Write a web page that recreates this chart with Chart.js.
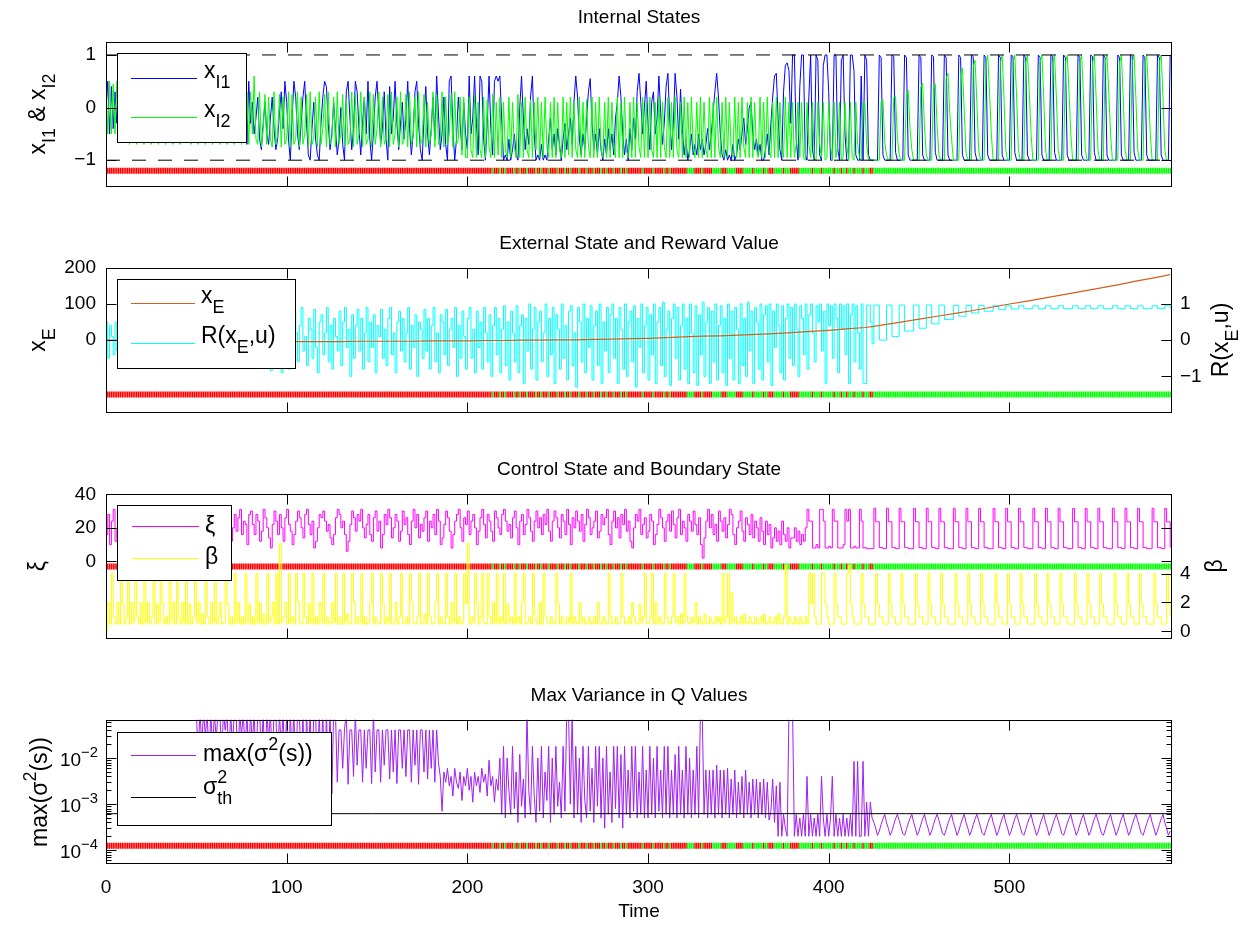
<!DOCTYPE html>
<html lang="en">
<head>
<meta charset="UTF-8" />
<title>Internal, External, Control States and Max Variance</title>
<script src="https://cdn.jsdelivr.net/npm/chart.js"></script>
<style>
  body { margin: 0; background: #fff; }
  #page { position: relative; width: 1252px; height: 927px; background: #fff; overflow: hidden; }
  .panel { position: absolute; left: 0; width: 1252px; }
</style>
</head>
<body>
<div id="page">
  <div class="panel" style="top:0px;height:191px"><canvas id="internal"></canvas></div>
  <div class="panel" style="top:226px;height:191px"><canvas id="external"></canvas></div>
  <div class="panel" style="top:452px;height:191px"><canvas id="control"></canvas></div>
  <div class="panel" style="top:678px;height:249px"><canvas id="variance"></canvas></div>
</div>
<script>
// ---------- data: one value per time step (t = 0 .. 589) unless noted ----------
const timeTicks = [0, 100, 200, 300, 400, 500];

const xI1 = [
0,0.5,-0.5,0.4,-0.4,0.3,-0.3,0.5,-0.5,0.2,-0.4,0.3,-0.2,0.4,-0.5,0.1,-0.3,0.4,-0.4,0.2,
-0.5,0.3,-0.3,0.4,-0.5,0.2,-0.2,0.4,-0.4,0.3,-0.5,0.1,-0.3,0.4,-0.4,0.2,-0.5,0.3,-0.2,0.4,
-0.5,0.2,-0.3,0.4,-0.5,0.3,-0.4,0.2,-0.5,0.4,-0.3,0.3,-0.5,0.2,-0.4,0.4,-0.5,0.3,-0.3,0.2,
-0.5,0.4,-0.4,0.3,-0.5,0.2,-0.3,0.4,-0.5,0.3,-0.4,0.2,-0.6,0.4,-0.5,0.3,-0.6,0.2,-0.7,0.5,
-0.3,0.1,-0.5,-0.2,0.2,-0.6,-0.8,-0.3,0.1,-0.5,-0.7,-0.2,0.2,-0.4,-0.8,-0.6,-0.1,0.3,-0.4,0.5,
0.1,-0.6,-1,-0.2,0.5,0.2,-0.5,-0.8,-0.3,0.2,0.5,-0.3,-0.9,-1,-0.4,0.1,-0.6,-0.9,-1,-0.3,
0.2,0.5,0.4,-0.3,-0.8,-0.5,0.1,-0.4,-0.9,-0.6,0,-0.7,-1,0.3,0.5,-0.2,-0.8,-0.4,0.5,0.3,
-0.4,-0.9,-0.3,0.2,-0.5,0.5,-0.6,-1,-0.5,0.2,0.5,-0.1,-0.7,-0.4,0.3,-0.6,-1,0.4,-0.5,-0.2,
0.5,-0.3,-0.8,-0.3,0.1,-0.6,-0.2,0.5,-0.4,-0.9,-0.5,0.3,0.5,-0.3,-0.8,-1,-0.2,0.4,-0.5,-0.9,
-0.4,0.2,-0.6,0.6,-0.1,-0.8,-0.5,0.2,-0.7,-1,0.5,0.6,-0.4,-1,-0.6,0.2,-0.3,-0.8,0.1,-0.5,
-0.8,0.6,-0.5,-0.2,0.6,-0.3,-0.9,0.6,0.5,-0.6,-1,-0.3,0.6,-0.4,-0.9,0.5,0.6,0.5,0.6,-0.2,
-1,-0.9,-1,-0.6,-1,-0.8,-0.5,-0.9,-1,0,0.6,-0.2,-0.8,-0.4,-0.7,0.2,0.6,-0.5,-1,-0.9,
-1,-0.7,-1,-0.9,-1,-0.6,-0.2,-0.8,-0.5,-0.9,-0.4,-0.7,-1,-0.6,-0.3,-0.8,-0.5,-0.2,-0.7,0.1,
0.6,0.2,-0.6,-0.9,-0.5,-0.8,-0.2,0.3,0.55,-0.3,-0.8,-0.5,-0.9,-0.4,-0.8,-1,-0.6,-0.9,-0.4,-0.8,
-0.5,-0.9,-0.2,0.1,0.6,0.2,-0.5,-0.9,-0.6,-1,-0.4,-0.8,-0.2,-0.6,0.3,0.65,0.1,-0.5,0,0.5,
-0.3,-0.8,0.1,0.3,-0.5,-0.2,0.6,-0.1,-0.7,-0.3,0.4,0.65,-0.2,-0.8,-0.3,0.65,0.2,-0.6,0.35,-0.4,
-0.9,-0.6,-1,-0.8,-0.5,-0.9,-0.7,-0.9,-0.5,-0.8,-0.6,-0.9,-0.7,-0.4,-0.8,-0.5,-0.1,0.3,0.65,0.2,
-0.5,-0.9,-1,-0.8,-1,-0.9,-1,-0.7,-1,-0.9,-0.6,-0.8,-0.5,-0.2,-0.7,-0.4,0,0.1,-0.5,-0.8,
-0.6,-0.9,-0.7,-1,-1,-0.8,-0.5,-0.9,-0.3,0.2,0.6,0.65,-0.2,-0.8,-1,0.3,0.8,0.85,0.7,-0.3,
1,1,-0.6,-1,0.4,1,1,-0.9,-1,0.2,1,-0.8,-1,1,0.9,-0.9,-1,0.8,1,1,
0.3,-1,-1,1,1,-0.8,-1,0.9,1,-0.5,-1,-1,1,1,0.7,-0.9,-1,-1,0.6,-1,
1,0.9,-0.9,-1,-1,
-1,-1,-1,1,0.95,-0.9,-1,
-1,-1,-1,1,0.97,-0.85,-1,
-1,-1,-1,1,0.95,-0.9,-1,-1,
-1,-1,-1,1,0.95,-0.9,-1,
-1,-1,-1,1,0.97,-0.85,-1,
-1,-1,-1,1,0.95,-0.9,-1,-1,
-1,-1,-1,1,0.95,-0.9,-1,
-1,-1,-1,1,0.97,-0.85,-1,
-1,-1,-1,1,0.95,-0.9,-1,-1,
-1,-1,-1,1,0.95,-0.9,-1,
-1,-1,-1,1,0.97,-0.85,-1,
-1,-1,-1,1,0.95,-0.9,-1,-1,
-1,-1,-1,1,0.95,-0.9,-1,
-1,-1,-1,1,0.97,-0.85,-1,
-1,-1,-1,1,0.95,-0.9,-1,-1,
-1,-1,-1,1,0.95,-0.9,-1,
-1,-1,-1,1,0.97,-0.85,-1,
-1,-1,-1,1,0.95,-0.9,-1,-1,
-1,-1,-1,1,0.95,-0.9,-1,
-1,-1,-1,1,0.97,-0.85,-1,
-1,-1,-1,1,0.95,-0.9,-1,-1,
-1,-1,-1,1,0.95,-0.9,-1,
-1,-1,-1,1
];

const xI2 = [
0.5,-0.5,0.5,-0.5,0.45,-0.5,0.5,-0.45,0.5,-0.5,0.3,-0.6,0.2,-0.7,0.3,-0.5,0.2,-0.7,0.3,-0.6,
0.2,-0.7,0.25,-0.5,0.3,-0.7,0.1,-0.6,0.3,-0.7,0.2,-0.5,0.3,-0.7,0.2,-0.6,0.25,-0.7,0.1,-0.6,
0.3,-0.7,0.2,-0.5,0.3,-0.65,0.2,-0.7,0.1,-0.6,0.3,-0.7,0.2,-0.5,0.25,-0.7,0.3,-0.6,0.2,-0.7,
0.3,-0.5,0.2,-0.7,0.25,-0.6,0.3,-0.7,0.1,-0.65,0.3,-0.7,0.2,-0.5,0.3,-0.7,0.45,-0.6,0.3,-0.7,
0.3,-0.5,0.6,-0.6,-0.7,0.3,-0.75,-0.4,0.25,-0.7,0.2,-0.6,-0.75,0.3,-0.7,-0.5,0.25,-0.75,0.2,-0.7,
-0.6,0.3,-0.75,0.25,-0.7,-0.6,0.3,-0.75,0.2,-0.7,-0.5,0.25,-0.75,0.3,-0.7,-0.6,0.2,-0.75,0.3,-0.7,
-0.4,0.25,-0.75,0.3,-0.7,-0.6,0.2,-0.75,0.3,-0.7,-0.5,0.25,-0.75,0.15,-0.7,-0.6,0.3,-0.75,0.25,-0.7,
-0.5,0.3,-0.75,0.2,-0.7,-0.6,0.3,-0.75,0.25,-0.7,-0.4,0.3,-0.75,0.2,-0.7,-0.6,0.25,-0.75,0.3,-0.7,
-0.5,0.2,-0.75,0.3,-0.7,-0.6,0.25,-0.75,0.3,-0.7,-0.55,0.2,-0.75,0.3,-0.7,-0.6,0.25,-0.75,0.1,-0.7,
-0.5,0.3,-0.75,0.25,-0.7,-0.6,0.3,-0.75,0.2,-0.7,-0.5,0.25,-0.75,0.3,-0.7,-0.6,0.2,-0.9,0.2,-0.95,
-0.95,0.2,-0.8,-0.95,0.25,-0.95,0.1,-0.8,-0.95,0.2,-0.95,0.15,-0.75,-0.95,0.25,-0.95,0.1,-0.9,0.2,-0.95,
0.1,-0.8,-0.95,0.2,-0.95,0.1,-0.75,-0.95,0.25,-0.95,0.1,-0.95,0.2,-0.8,-0.95,0.15,-0.95,0.1,-0.8,0.2,
-0.95,0.1,-0.95,0.2,-0.75,-0.95,0.1,-0.95,0.2,-0.95,0.1,-0.8,-0.95,0.2,-0.95,0.1,-0.9,0.2,-0.95,0.1,
-0.8,-0.95,0.2,-0.95,0.1,-0.95,0.15,-0.75,-0.95,0.2,-0.95,0.1,-0.95,0.2,-0.8,-0.95,0.1,-0.95,0.2,-0.95,
0.1,-0.75,-0.95,0.2,-0.95,0.1,-0.95,0.2,-0.8,-0.95,0.1,-0.95,0.2,-0.95,0.1,-0.75,-0.95,0.2,-0.95,0.1,
-0.95,0.2,-0.8,-0.95,0.1,-0.95,0.2,-0.95,0.1,-0.75,-0.95,0.2,-0.95,0.1,-0.95,0.2,-0.8,-0.95,0.1,-0.95,
0.2,-0.95,0.1,-0.95,0.2,-0.75,-0.95,0.1,-0.95,0.2,-0.95,0.1,-0.8,-0.95,0.2,-0.95,0.1,-0.95,0.2,-0.75,
-0.95,0.1,-0.95,0.2,-0.95,0.1,-0.8,-0.95,0.2,-0.95,0.1,-0.95,0.2,-0.75,-0.95,0.1,-0.95,0.2,-0.95,0.1,
-0.8,-0.95,0.2,-0.95,0.1,-0.95,0.2,-0.8,-0.95,0.1,-0.95,0.2,-0.95,0.1,-0.75,-0.95,0.2,-0.95,0.1,-0.95,
0.1,-0.95,-0.7,0.1,-0.95,0.1,-0.95,-1,0.1,-0.7,-0.95,0.1,-0.95,-1,0.1,-0.7,-0.95,0.1,-1,-0.95,
0.1,-0.7,-1,0.1,-0.95,-0.7,0.1,-1,-0.95,0.1,-0.7,-1,0.1,-0.95,-1,0.1,-0.7,-0.95,-1,0.1,
0.1,-0.7,-1,-1,-1,
-1,-1,-1,-1,0.12,0.15,-0.65,
-0.9,-1,-1,-1,0.19,0.22,-0.58,
-0.9,-1,-1,-1,0.28,0.33,-0.4,-0.8,
-1,-1,-1,-1,0.39,0.46,-0.34,
-0.9,-1,-1,-1,0.38,0.45,-0.35,
-0.9,-1,-1,-1,0.55,0.65,-0.1,-0.6,
-1,-1,-1,-1,0.64,0.75,-0.05,
-0.85,-1,-1,-1,0.77,0.9,0.1,
-0.8,-1,-1,-1,0.85,1,0.3,-0.5,
-1,-1,-1,-1,0.85,1,0.2,
-0.8,-1,-1,-1,0.85,1,0.2,
-0.8,-1,-1,-1,0.85,1,0.3,-0.5,
-1,-1,-1,-1,0.85,1,0.2,
-0.8,-1,-1,-1,0.85,1,0.2,
-0.8,-1,-1,-1,0.85,1,0.3,-0.5,
-1,-1,-1,-1,0.85,1,0.2,
-0.8,-1,-1,-1,0.85,1,0.2,
-0.8,-1,-1,-1,0.85,1,0.3,-0.5,
-1,-1,-1,-1,0.85,1,0.2,
-0.8,-1,-1,-1,0.85,1,0.2,
-0.8,-1,-1,-1,0.85,1,0.3,-0.5,
-1,-1,-1,-1,0.85,1,0.2,
-0.8,-1,-1,-1
];

// external state, read every 10 steps (smooth curve)
const xETime = [0,10,20,30,40,50,60,70,80,90,100,110,120,130,140,150,160,170,180,190,200,210,220,230,240,250,260,270,280,290,300,310,320,330,340,350,360,370,380,390,400,410,420,425,430,440,450,460,470,480,490,500,510,520,530,540,550,560,570,580,589];
const xE = [0,-1,-1,-2,-2,-3,-3,-3,-3,-4,-4,-4,-4,-4,-3,-3,-3,-3,-2,-2,-2,-1,-1,0,0,1,1,2,3,4,5,7,9,11,12,14,16,18,21,24,27,31,35,38,42,50,58,66,74,82,91,100,108,117,126,135,144,153,163,172,181];

const reward = [
0.5,-0.5,0.4,0.1,-0.4,0.5,-0.3,0.2,0.6,-0.2,0.3,-0.5,0.4,0,-0.4,0.5,0.2,-0.3,0.6,-0.1,
0.4,-0.5,0.2,0.6,-0.3,0.1,0.5,-0.6,0.3,-0.2,0.6,0,-0.5,0.4,-0.1,0.5,-0.4,0.2,0.7,-0.3,
0.1,0.6,-0.5,0.3,-0.2,0.5,-0.6,0.4,0,0.7,-0.4,0.2,-0.6,0.5,0.1,-0.3,0.6,-0.5,0.3,0,
-0.6,0.5,0.2,-0.4,0.7,-0.2,0.4,-0.6,0.1,0.6,-0.3,0.5,-0.5,0.2,0.7,-0.4,0,0.5,-0.6,0.3,
0.7,-0.2,0.4,-0.6,0.6,0.1,-0.5,0.5,-0.3,0.7,0.2,-0.85,0.4,-0.6,0.6,-0.2,0.5,-0.9,0.3,0.7,
-0.4,-0.8,0.5,-0.5,0.8,0.2,-0.6,0.4,0.9,-0.3,0.1,-0.7,0.6,0.3,-0.5,0.85,-0.2,-0.9,0.5,0.7,
-0.4,0.2,0.9,-0.6,0.4,-0.8,0.6,0.1,-0.3,0.8,-0.7,0.5,0.9,-0.2,0.3,-1,0.7,-0.5,0.4,0.85,
-0.3,0.6,-0.8,0.2,0.9,-0.6,0.5,-0.2,0.7,-0.9,0.4,0.1,0.85,-0.5,0.3,-0.7,0.6,0.9,-0.4,0.2,
-0.9,0.5,0.8,-0.3,0.6,-0.6,0.2,0.9,-0.8,0.4,-0.2,0.7,-1,0.5,0.3,-0.5,0.85,-0.3,0.6,-0.8,
0.4,0.9,-0.6,0.2,-0.9,0.7,0.5,-0.4,0.85,-0.7,0.3,0.6,-0.2,0.9,-1,0.4,-0.5,0.8,0.1,-0.8,
0.6,0.9,-0.5,0.3,-0.9,0.8,-0.2,0.5,-0.8,0.9,0.2,-0.6,0.7,-1,0.4,0.9,-0.4,0.6,-0.9,0.3,
0.95,-0.7,0.5,-1.1,0.8,0.2,-0.6,0.95,-0.9,0.4,0.7,-1.2,0.6,-0.3,1,-0.8,0.3,0.9,-1.1,0.5,
0.8,-0.6,0.2,1,-1,0.6,-0.4,0.9,-1.2,0.7,0.3,-0.8,1,-0.5,0.4,-1.1,0.8,0.95,-0.7,0.2,
-1.3,0.9,0.5,-0.6,1,-0.9,0.6,-0.2,0.95,-1.1,0.4,0.8,-0.7,1,-1.2,0.5,-0.3,0.9,-0.9,0.7,
1,-0.5,0.6,-1.2,0.9,0.3,-0.8,1,-1,0.5,0.8,-0.6,0.95,-1.3,0.6,-0.2,1,-0.9,0.4,0.9,
-1.1,0.7,-0.4,1,-1.2,0.5,0.9,-0.7,1.05,-1,0.3,0.8,-1.25,0.6,1,-0.5,0.9,-1.1,0.4,1,
-0.8,0.6,-1.2,1,0.2,-0.9,0.95,-1.25,0.7,-0.4,1.05,-1,0.5,0.9,-1.2,0.8,-0.6,1,-1.1,0.4,
0.95,-0.9,0.6,-1.25,1,-0.5,0.8,-1.1,0.9,0.3,-1.2,1,-0.7,0.6,-1,1.05,-0.3,0.8,-1.2,0.9,
0.5,-0.8,1,-1.1,0.7,0.95,-0.6,1,-1.25,0.8,-0.2,1,0.4,-0.9,0.95,-1.1,0.6,1,-0.5,0.9,
-0.7,1,0.3,-1,0.95,0.6,-0.4,1,-0.8,0.7,1,0.2,-0.6,0.95,0.5,1,-0.3,0.8,-1.2,1,
0.4,0.95,-0.5,1,0.6,-0.9,1,0.3,0.95,-0.4,1,-1.2,0.7,1,-0.6,0.95,0.2,-0.8,1,-1.2,
-1.2,0.97,0.97,0.5,-0.1,
0.97,0.97,0.97,0,0,0,0,
0.97,0.97,0.97,0.1,0.1,0.1,0.1,
0.97,0.97,0.97,0.25,0.25,0.25,0.25,0.25,
0.97,0.97,0.97,0.33,0.33,0.33,0.33,
0.97,0.97,0.97,0.45,0.45,0.45,0.45,
0.97,0.97,0.97,0.57,0.57,0.57,0.57,0.57,
0.96,0.96,0.96,0.66,0.66,0.66,0.66,
0.96,0.96,0.96,0.75,0.75,0.75,0.75,
0.96,0.96,0.96,0.8,0.8,0.8,0.8,0.8,
0.95,0.95,0.95,0.84,0.84,0.84,0.84,
0.95,0.95,0.95,0.86,0.86,0.86,0.86,
0.95,0.95,0.95,0.87,0.87,0.87,0.87,0.87,
0.95,0.95,0.95,0.87,0.87,0.87,0.87,
0.95,0.95,0.95,0.87,0.87,0.87,0.87,
0.95,0.95,0.95,0.87,0.87,0.87,0.87,0.87,
0.95,0.95,0.95,0.87,0.87,0.87,0.87,
0.95,0.95,0.95,0.87,0.87,0.87,0.87,
0.95,0.95,0.95,0.87,0.87,0.87,0.87,0.87,
0.95,0.95,0.95,0.87,0.87,0.87,0.87,
0.95,0.95,0.95,0.87,0.87,0.87,0.87,
0.95,0.95,0.95,0.87,0.87,0.87,0.87,0.87,
0.95,0.95,0.95,0.87,0.87,0.87,0.87,
0.95,0.95,0.95,0.87
];

const xi = [
16,28,10,24,31,12,20,26,18,30,14,22,28,16,24,31,20,12,26,18,
28,22,14,30,24,18,26,31,16,22,12,28,20,24,30,18,14,26,22,31,
20,16,28,24,12,30,22,18,26,14,31,24,20,28,16,22,30,12,24,18,
26,31,20,14,28,22,16,30,24,12,20,28,18,26,31,16,24,22,10,28,
30,22,16,28,24,12,18,31,26,20,14,8,22,30,24,16,28,20,12,26,
31,22,18,10,16,24,30,26,20,14,28,31,22,16,24,8,12,20,28,26,
30,24,18,22,14,10,16,26,31,28,20,24,16,6,12,22,30,26,18,28,
24,31,20,14,22,28,16,12,26,30,18,24,8,16,28,22,31,26,14,20,
28,24,12,18,30,22,26,16,10,24,31,20,28,14,22,18,26,30,12,24,
20,28,16,31,24,10,14,22,30,26,18,8,16,24,28,31,20,12,26,22,
30,16,24,28,20,10,18,26,31,22,14,28,24,18,12,30,26,20,16,28,
31,24,18,22,14,26,30,20,10,24,28,16,22,31,26,18,12,24,30,20,
26,16,28,22,31,18,12,24,30,26,20,14,28,24,16,31,22,10,26,20,
30,24,18,28,12,22,31,26,16,20,24,30,14,18,28,22,26,31,16,10,
24,30,20,26,14,28,22,31,18,24,12,8,20,28,24,31,16,22,26,14,
18,28,24,10,16,22,31,26,20,12,24,28,18,30,22,14,26,31,16,24,
20,12,28,24,18,30,22,16,26,10,2,14,24,31,20,28,16,22,12,30,
24,18,26,14,22,31,28,16,10,20,24,30,18,12,26,22,16,28,14,24,
20,12,26,18,10,24,16,22,8,14,20,12,18,10,24,16,12,20,8,14,
14,20,12,18,10,16,12,20,31,24,24,8,8,10,8,31,31,24,8,8,
9,8,31,24,24,8,8,8,10,31,24,31,8,8,9,8,8,31,24,8,
8.2,7.6,7.6,7.6,7.6,
31.6,23.6,23.6,8.2,8.2,7.6,7.6,
31.6,23.6,23.6,8.2,8.2,7.6,7.6,
31.6,23.6,23.6,8.2,8.2,7.6,7.6,7.6,
31.6,23.6,23.6,8.2,8.2,7.6,7.6,
31.6,23.6,23.6,8.2,8.2,7.6,7.6,
31.6,23.6,23.6,8.2,8.2,7.6,7.6,7.6,
31.6,23.6,23.6,8.2,8.2,7.6,7.6,
31.6,23.6,23.6,8.2,8.2,7.6,7.6,
31.6,23.6,23.6,8.2,8.2,7.6,7.6,7.6,
31.6,23.6,23.6,8.2,8.2,7.6,7.6,
31.6,23.6,23.6,8.2,8.2,7.6,7.6,
31.6,23.6,23.6,8.2,8.2,7.6,7.6,7.6,
31.6,23.6,23.6,8.2,8.2,7.6,7.6,
31.6,23.6,23.6,8.2,8.2,7.6,7.6,
31.6,23.6,23.6,8.2,8.2,7.6,7.6,7.6,
31.6,23.6,23.6,8.2,8.2,7.6,7.6,
31.6,23.6,23.6,8.2,8.2,7.6,7.6,
31.6,23.6,23.6,8.2,8.2,7.6,7.6,7.6,
31.6,23.6,23.6,8.2,8.2,7.6,7.6,
31.6,23.6,23.6,8.2,8.2,7.6,7.6,
31.6,23.6,23.6,8.2,8.2,7.6,7.6,7.6,
31.6,23.6,23.6,8.2,8.2,7.6,7.6,
31.6,23.6,23.6,8.2
];

const beta = [
0,2,0.5,4,1,0.5,2,0.5,4,1.9,0.5,1,4,0.5,2,0.6,4,1,0.5,2,
0.5,4,0.6,2,0.5,1,4,0.5,1.9,0.6,4,2,0.5,1,0.5,4,0.6,2,0.5,4,
1,0.5,2,0.6,4,0.5,1.9,0.5,1,4,0.6,2,0.5,1.2,0.5,4,1,0.5,2,0.6,
4,0.5,1,2,0.5,0.6,4,1.9,0.5,1,0.5,4,0.6,2,0.5,1,0.5,4,0.6,1.9,
0.5,1,0.5,4,0.6,2,0.5,1.2,0.5,4,0.6,1,2,0.5,4,0.5,6.1,0.6,1,2,
0.5,4,0.6,1,0.5,4,2,0.6,0.5,4,1,0.5,1.9,0.6,4,0.5,1,0.5,2,0.6,
4,0.5,1,0.6,0.5,2,0.6,4,0.5,1,0.5,4,0.6,1.2,0.5,0.6,4,2,0.5,1,
0.6,4,0.5,1,0.5,0.6,2,4,0.5,1,0.6,0.5,4,1.9,0.5,1,0.6,4,0.5,0.6,
2,0.5,1,4,0.6,0.5,1,0.5,4,2,0.6,0.5,1,4,0.5,0.6,1.2,0.5,4,1,
0.5,0.6,2,4,0.5,1,0.6,0.5,4,1,0.5,2,0.6,4,0.5,1,0.5,0.6,4,1.9,
6.1,0.5,1,0.6,4,2,0.5,1,4,0.6,0.5,4,1,0.5,2,0.6,4,0.5,1,0.6,
4,0.5,1.9,0.6,1,0.5,4,0.6,1,0.5,2,4,0.5,0.6,1,0.5,4,1.2,0.6,0.5,
2,0.5,4,1,0.6,0.5,1,0.6,0.5,4,1.9,0.5,1,0.6,0.5,1,0.6,4,0.5,1,
0.6,0.5,2,0.6,1,0.5,0.6,1,0.5,0.6,1,0.5,2,0.6,0.5,1,0.6,0.5,4,1,
0.5,0.6,1,0.5,0.6,4,1,0.5,0.6,1,0.5,2,1,0.6,0.5,1.9,0.6,1,4,0.5,
0.6,1,4,0.5,2,0.5,1,0.6,0.5,4,1,0.6,0.5,1,4,0.6,1,0.5,1.2,0.5,
4,1,0.6,0.5,1,0.6,2,0.5,1,0.6,0.5,1.2,0.6,0.5,1,0.6,0.5,1,0.6,1,
0.5,4,0.6,1,4,0.5,2.7,0.6,1,0.5,0.6,1,0.5,1.2,0.6,0.5,1,0.6,0.5,1,
0.6,0.5,1,0.6,1.2,0.5,0.6,1,0.5,0.6,1,0.5,1.2,0.6,0.5,1,4.6,0.5,1,0.6,
0.5,1,0.6,0.5,1,0.6,0.5,1,0.5,4,1.9,4,1,0.5,0.5,0.5,4,4,1.9,1,
0.5,0.5,0.5,4,1.9,1,1,0.5,0.5,0.5,4,4.6,1.9,1,0.5,0.5,0.5,0.5,4,1.9,
1,1,0.5,0.5,0.5,
0.5,4,1.9,1,1,0.5,0.5,
0.5,4,1.9,1,1,0.5,0.5,
0.5,4,1.9,1,1,0.5,0.5,0.5,
0.5,4,1.9,1,1,0.5,0.5,
0.5,4,1.9,1,1,0.5,0.5,
0.5,4,1.9,1,1,0.5,0.5,0.5,
0.5,4,1.9,1,1,0.5,0.5,
0.5,4,1.9,1,1,0.5,0.5,
0.5,4,1.9,1,1,0.5,0.5,0.5,
0.5,4,1.9,1,1,0.5,0.5,
0.5,4,1.9,1,1,0.5,0.5,
0.5,4,1.9,1,1,0.5,0.5,0.5,
0.5,4,1.9,1,1,0.5,0.5,
0.5,4,1.9,1,1,0.5,0.5,
0.5,4,1.9,1,1,0.5,0.5,0.5,
0.5,4,1.9,1,1,0.5,0.5,
0.5,4,1.9,1,1,0.5,0.5,
0.5,4,1.9,1,1,0.5,0.5,0.5,
0.5,4,1.9,1,1,0.5,0.5,
0.5,4,1.9,1,1,0.5,0.5,
0.5,4,1.9,1,1,0.5,0.5,0.5,
0.5,4,1.9,1,1,0.5,0.5,
0.5,4,1.9,1
];

const maxVar = [
0.1,0.1,0.1,0.1,0.1,0.1,0.1,0.1,0.1,0.1,0.1,0.1,0.1,0.1,0.1,0.1,0.1,0.1,0.1,0.1,
0.1,0.1,0.1,0.1,0.1,0.1,0.1,0.1,0.1,0.1,0.1,0.1,0.1,0.1,0.1,0.1,0.1,0.1,0.1,0.1,
0.1,0.1,0.1,0.1,0.1,0.1,0.1,0.1,0.1,0.1,0.1,0.012,0.1,0.02,0.1,0.03,0.1,0.008,0.1,0.015,
0.1,0.025,0.1,0.1,0.01,0.1,0.04,0.1,0.007,0.1,0.018,0.1,0.1,0.006,0.1,0.03,0.1,0.012,0.1,0.009,
0.1,0.02,0.1,0.006,0.1,0.1,0.012,0.1,0.004,0.1,0.025,0.1,0.008,0.1,0.1,0.005,0.1,0.015,0.1,0.007,
0.1,0.003,0.1,0.012,0.1,0.0025,0.1,0.1,0.005,0.1,0.0018,0.1,0.008,0.1,0.003,0.1,0.1,0.002,0.1,0.006,
0.1,0.0025,0.1,0.004,0.1,0.0017,0.1,0.1,0.003,0.041,0.041,0.006,0.041,0.1,0.0027,0.041,0.041,0.004,0.1,0.007,
0.041,0.041,0.003,0.041,0.006,0.041,0.041,0.0028,0.1,0.005,0.041,0.041,0.003,0.041,0.007,0.041,0.041,0.0035,0.041,0.005,
0.041,0.0028,0.041,0.041,0.006,0.041,0.004,0.041,0.041,0.003,0.041,0.007,0.041,0.0027,0.041,0.041,0.005,0.041,0.0035,0.041,
0.006,0.041,0.003,0.041,0.008,0.004,7e-4,0.005,0.003,0.006,0.0025,0.004,0.0015,0.006,0.003,0.0022,0.005,0.0012,0.004,0.0025,
0.006,0.002,0.004,0.0011,0.005,0.0025,0.004,0.0018,0.006,0.003,0.0045,0.0015,0.009,0.0025,0.004,0.0011,0.0035,0.002,0.01,6e-4,
0.018,5e-4,0.01,0.002,6e-4,0.018,8e-4,0.005,4e-4,0.012,9e-4,0.0035,5e-4,0.1,0.002,6e-4,0.018,0.0015,4e-4,0.01,
7e-4,0.018,5e-4,0.005,0.0012,0.018,4e-4,0.01,6e-4,0.018,9e-4,0.003,5e-4,0.018,7e-4,0.1,0.1,0.001,0.1,5e-4,
0.018,6e-4,0.01,4e-4,0.018,0.0012,5e-4,0.018,7e-4,0.006,4e-4,0.018,9e-4,0.018,5e-4,0.01,3e-4,0.018,6e-4,0.005,
4e-4,0.018,8e-4,0.018,5e-4,0.012,3e-4,0.018,6e-4,0.0055,5e-4,0.018,7e-4,0.018,5e-4,0.005,6e-4,0.018,5e-4,0.0055,
5e-4,0.018,6e-4,0.01,5e-4,0.018,7e-4,0.0055,5e-4,0.018,6e-4,0.018,5e-4,0.0055,6e-4,0.012,5e-4,0.018,6e-4,0.0055,
5e-4,0.018,6e-4,0.01,5e-4,0.0055,6e-4,0.018,5e-4,0.1,0.1,6e-4,0.0055,5e-4,0.0055,6e-4,0.0055,5e-4,0.007,6e-4,
0.0055,5e-4,0.0055,6e-4,0.006,5e-4,0.0035,6e-4,0.0055,5e-4,0.003,6e-4,0.004,5e-4,0.0055,6e-4,0.003,5e-4,0.0035,6e-4,
0.0035,5e-4,0.003,6e-4,0.0035,5e-4,0.003,4.5e-4,7e-4,0.0035,4e-4,0.0025,2e-4,0.003,2e-4,6e-4,3e-4,2e-4,0.1,0.1,
0.1,2e-4,6e-4,2e-4,5e-4,2e-4,6e-4,2e-4,0.004,2e-4,6e-4,2e-4,5e-4,2e-4,6e-4,2e-4,0.004,5e-4,2e-4,6e-4,
2e-4,5e-4,0.004,2e-4,6e-4,2e-4,5e-4,2e-4,6e-4,2e-4,5e-4,2e-4,6e-4,2e-4,0.0085,2e-4,0.0085,2e-4,2e-4,0.0085,
2e-4,0.0011,2e-4,0.0011,5e-4,
4e-4,3e-4,2.1e-4,2.6e-4,3.6e-4,4.8e-4,6e-4,
4e-4,3e-4,2.1e-4,2.6e-4,3.6e-4,4.8e-4,6e-4,
4.4e-4,3.2e-4,2.3e-4,2.1e-4,2.8e-4,3.8e-4,4.9e-4,6e-4,
4e-4,3e-4,2.1e-4,2.6e-4,3.6e-4,4.8e-4,6e-4,
4e-4,3e-4,2.1e-4,2.6e-4,3.6e-4,4.8e-4,6e-4,
4.4e-4,3.2e-4,2.3e-4,2.1e-4,2.8e-4,3.8e-4,4.9e-4,6e-4,
4e-4,3e-4,2.1e-4,2.6e-4,3.6e-4,4.8e-4,6e-4,
4e-4,3e-4,2.1e-4,2.6e-4,3.6e-4,4.8e-4,6e-4,
4.4e-4,3.2e-4,2.3e-4,2.1e-4,2.8e-4,3.8e-4,4.9e-4,6e-4,
4e-4,3e-4,2.1e-4,2.6e-4,3.6e-4,4.8e-4,6e-4,
4e-4,3e-4,2.1e-4,2.6e-4,3.6e-4,4.8e-4,6e-4,
4.4e-4,3.2e-4,2.3e-4,2.1e-4,2.8e-4,3.8e-4,4.9e-4,6e-4,
4e-4,3e-4,2.1e-4,2.6e-4,3.6e-4,4.8e-4,6e-4,
4e-4,3e-4,2.1e-4,2.6e-4,3.6e-4,4.8e-4,6e-4,
4.4e-4,3.2e-4,2.3e-4,2.1e-4,2.8e-4,3.8e-4,4.9e-4,6e-4,
4e-4,3e-4,2.1e-4,2.6e-4,3.6e-4,4.8e-4,6e-4,
4e-4,3e-4,2.1e-4,2.6e-4,3.6e-4,4.8e-4,6e-4,
4.4e-4,3.2e-4,2.3e-4,2.1e-4,2.8e-4,3.8e-4,4.9e-4,6e-4,
4e-4,3e-4,2.1e-4,2.6e-4,3.6e-4,4.8e-4,6e-4,
4e-4,3e-4,2.1e-4,2.6e-4,3.6e-4,4.8e-4,6e-4,
4.4e-4,3.2e-4,2.3e-4,2.1e-4,2.8e-4,3.8e-4,4.9e-4,6e-4,
4e-4,3e-4,2.1e-4,2.6e-4,3.6e-4,4.8e-4,6e-4,
4e-4,3e-4,2.1e-4,2.6e-4
];
const sigmaTh = 6.2e-4;

// 1 = green marker (inside bounds), 0 = red marker
const inBounds = [
0,0,0,0,0,0,0,0,0,0,0,0,0,0,0,0,0,0,0,0,
0,0,0,0,0,0,0,0,0,0,0,0,0,0,0,0,0,0,0,0,
0,0,0,0,0,0,0,0,0,0,0,0,0,0,0,0,0,0,0,0,
0,0,0,0,0,0,0,0,0,0,0,0,0,0,0,0,0,0,0,0,
0,0,0,0,0,0,0,0,0,0,0,0,0,0,0,0,0,0,0,0,
0,0,0,0,0,0,0,0,0,0,0,0,0,0,0,0,0,0,0,0,
0,0,0,0,0,0,0,0,0,0,0,0,0,0,0,0,0,0,0,0,
0,0,0,0,0,0,0,0,0,0,0,0,0,0,0,0,0,0,0,0,
0,0,0,0,0,0,0,0,0,0,0,0,0,0,0,0,0,0,0,0,
0,0,0,0,0,0,0,0,0,0,0,0,0,0,0,0,0,0,0,0,
0,0,0,0,0,0,0,0,0,0,0,0,0,0,1,0,0,0,1,0,
0,1,0,0,0,0,1,0,0,1,0,0,0,1,0,0,0,0,1,0,
0,1,0,0,0,1,0,0,0,0,1,0,0,0,1,0,0,1,0,0,
0,0,1,0,0,0,1,0,0,0,1,0,0,0,1,0,0,1,0,0,
0,1,0,0,0,1,0,0,1,0,0,0,0,0,0,0,0,1,0,0,
0,0,0,1,0,0,0,0,0,1,0,0,1,0,0,0,0,0,0,0,
0,0,1,1,1,1,0,0,0,0,1,0,0,0,0,0,1,1,1,1,
1,0,0,0,1,1,1,1,1,0,0,0,0,1,1,1,1,1,0,1,
1,1,1,1,0,1,1,0,0,0,1,1,1,1,1,0,1,1,1,0,
0,0,0,0,1,1,1,1,1,1,1,0,1,1,1,1,0,1,1,1,
1,1,1,0,1,1,1,0,1,1,0,1,1,1,0,1,1,1,1,0,
1,1,1,0,0,1,1,1,1,1,1,1,1,1,1,1,1,1,1,1,
1,1,1,1,1,1,1,1,1,1,1,1,1,1,1,1,1,1,1,1,
1,1,1,1,1,1,1,1,1,1,1,1,1,1,1,1,1,1,1,1,
1,1,1,1,1,1,1,1,1,1,1,1,1,1,1,1,1,1,1,1,
1,1,1,1,1,1,1,1,1,1,1,1,1,1,1,1,1,1,1,1,
1,1,1,1,1,1,1,1,1,1,1,1,1,1,1,1,1,1,1,1,
1,1,1,1,1,1,1,1,1,1,1,1,1,1,1,1,1,1,1,1,
1,1,1,1,1,1,1,1,1,1,1,1,1,1,1,1,1,1,1,1,
1,1,1,1,1,1,1,1,1,1
];

const boundLevels = [-1, 1];
const xITicks = [-1, 0, 1];
const xETicks = [0, 100, 200];
const rTicks = [-1, 0, 1];
const xiTicks = [0, 20, 40];
const betaTicks = [0, 2, 4];
const varTicks = [1e-4, 1e-3, 1e-2];

// ---------- drawing helpers ----------
const FONT = '"Liberation Sans", Arial, Helvetica, sans-serif';
const LABEL_SIZE = 23;
Chart.defaults.font.family = FONT;
Chart.defaults.font.size = 19;
Chart.defaults.color = '#000';
Chart.defaults.animation = false;

const byStep = arr => arr.map((v, i) => ({ x: i, y: v }));
const minus = v => String(v).replace('-', '\u2212');

// text with _{sub} and ^{sup} parts
function drawRich(ctx, text, x, y, size, align) {
  const re = /([_^])\{([^}]*)\}|([^_^]+)/g;
  const items = [];
  let m, w = 0;
  while ((m = re.exec(text)) !== null) {
    const kind = m[3] !== undefined ? 'n' : (m[1] === '_' ? 'sub' : 'sup');
    const t = m[3] !== undefined ? m[3] : m[2];
    const fs = kind === 'n' ? size : size * 0.78;
    ctx.font = fs + 'px ' + FONT;
    const tw = ctx.measureText(t).width;
    const dy = kind === 'sub' ? size * 0.45 : kind === 'sup' ? -size * 0.5 : 0;
    const prev = items[items.length - 1];
    if (kind === 'sub' && prev && prev.kind === 'sup') {
      items.push({ t, fs, x: prev.x, dy, kind });
      w = Math.max(w, prev.x + tw);
      continue;
    }
    items.push({ t, fs, x: w, dy, kind });
    w += tw;
  }
  const x0 = align === 'center' ? x - w / 2 : align === 'right' ? x - w : x;
  ctx.textAlign = 'left';
  ctx.textBaseline = 'alphabetic';
  items.forEach(it => {
    ctx.font = it.fs + 'px ' + FONT;
    ctx.fillText(it.t, x0 + it.x, y + it.dy);
  });
}

// box, inward ticks, legend and axis labels in the old plotting style
const matlabFrame = {
  id: 'matlabFrame',
  afterDatasetsDraw(chart, args, o) {
    const ctx = chart.ctx, a = chart.chartArea, off = o.top || 0;
    const L = Math.round(a.left) + 0.5, R = Math.round(a.right) - 0.5;
    const T = Math.round(a.top) + 0.5, B = Math.round(a.bottom) - 0.5;
    const xs = chart.scales.x, ys = chart.scales.y, y2 = chart.scales.y2;
    ctx.save();
    ctx.strokeStyle = '#000';
    ctx.lineWidth = 1;
    ctx.beginPath();
    xs.ticks.forEach(t => {
      const p = Math.round(xs.getPixelForValue(t.value)) + 0.5;
      ctx.moveTo(p, T); ctx.lineTo(p, T + 10);
      ctx.moveTo(p, B); ctx.lineTo(p, B - 10);
    });
    ys.ticks.forEach(t => {
      const p = Math.round(ys.getPixelForValue(t.value)) + 0.5;
      ctx.moveTo(L, p); ctx.lineTo(L + 10, p);
      ctx.moveTo(R, p); ctx.lineTo(R - 10, p);
    });
    if (y2) y2.ticks.forEach(t => {
      const p = Math.round(y2.getPixelForValue(t.value)) + 0.5;
      ctx.moveTo(R, p); ctx.lineTo(R - 10, p);
    });
    if (o.logAxis) {
      for (let e = -5; e <= -1; e++) {
        for (let k = 2; k <= 9; k++) {
          const v = k * Math.pow(10, e);
          if (v <= ys.min || v >= ys.max) continue;
          const p = Math.round(ys.getPixelForValue(v)) + 0.5;
          ctx.moveTo(L, p); ctx.lineTo(L + 5, p);
          ctx.moveTo(R, p); ctx.lineTo(R - 5, p);
        }
      }
    }
    ctx.stroke();
    ctx.strokeRect(L, T, R - L, B - T);

    ctx.fillStyle = '#000';
    if (o.logAxis) {
      ys.ticks.forEach(t => {
        const p = ys.getPixelForValue(t.value);
        const e = Math.round(Math.log10(t.value));
        drawRich(ctx, '10^{' + minus(e) + '}', a.left - 8, p + 8, 19, 'right');
      });
    }

    if (o.legend) {
      const g = o.legend;
      const bx = g.box[0], by = g.box[1] - off, bw = g.box[2] - g.box[0], bh = g.box[3] - g.box[1];
      ctx.fillStyle = '#fff';
      ctx.fillRect(bx, by, bw, bh);
      ctx.strokeStyle = '#000';
      ctx.strokeRect(Math.round(bx) + 0.5, Math.round(by) + 0.5, Math.round(bw), Math.round(bh));
      g.items.forEach(it => {
        const ly = Math.round(it.y - off) + 0.5;
        ctx.strokeStyle = it.color;
        ctx.beginPath();
        ctx.moveTo(g.lineX[0], ly);
        ctx.lineTo(g.lineX[1], ly);
        ctx.stroke();
        ctx.fillStyle = '#000';
        drawRich(ctx, it.label, g.textX, it.y - off + (it.dy || 0), LABEL_SIZE, 'left');
      });
    }

    (o.yTitles || []).forEach(t => {
      ctx.save();
      ctx.translate(t.x, t.y - off);
      ctx.rotate(-Math.PI / 2);
      ctx.fillStyle = '#000';
      drawRich(ctx, t.text, 0, 0, LABEL_SIZE, 'center');
      ctx.restore();
    });
    ctx.restore();
  }
};
Chart.register(matlabFrame);

function line(arr, color, extra) {
  return Object.assign({ data: byStep(arr), borderColor: color, borderWidth: 1, pointRadius: 0, fill: false, yAxisID: 'y' }, extra);
}
function hline(level, x0, x1, extra) {
  return Object.assign({ data: [{ x: x0, y: level }, { x: x1, y: level }], borderColor: '#000', borderWidth: 1, pointRadius: 0, fill: false, yAxisID: 'y' }, extra);
}
function markerStrip(level) {
  return {
    label: 'bounds check',
    data: inBounds.map((f, i) => ({ x: i, y: level })),
    showLine: false, pointStyle: 'line', pointRotation: 90,
    pointRadius: 3, pointHoverRadius: 0, pointBorderWidth: 1.5,
    pointBorderColor: inBounds.map(f => f ? '#00ff00' : '#ff0000'),
    order: 4, yAxisID: 'y'
  };
}
function timeAxis(bottom) {
  return {
    type: 'linear', min: 0, max: 590,
    grid: { display: false, drawTicks: false }, border: { display: false },
    afterBuildTicks: s => { s.ticks = timeTicks.map(v => ({ value: v })); },
    ticks: { display: bottom, padding: 12, maxRotation: 0, autoSkip: false },
    title: { display: bottom, text: 'Time', padding: { top: 4, bottom: 4 } },
    afterFit: s => { s.height = bottom ? 63 : 0; s.paddingLeft = 0; s.paddingRight = 0; }
  };
}
function valueAxis(pos, min, max, tickVals, extra) {
  return Object.assign({
    type: 'linear', position: pos, min, max,
    grid: { display: false, drawTicks: false }, border: { display: false },
    afterBuildTicks: s => { s.ticks = tickVals.map(v => ({ value: v })); },
    ticks: { padding: pos === 'left' ? 10 : 8, callback: v => minus(v) },
    afterFit: s => { s.width = pos === 'left' ? 106 : 80; s.paddingTop = 0; s.paddingBottom = 0; }
  }, extra || {});
}
function titleOpts(text) {
  return { display: true, text, fullSize: false, color: '#000', font: { size: 19, weight: 'normal' }, padding: { top: 6, bottom: 13 } };
}
function baseOptions(title, scales, frame, padRight, padBottom) {
  return {
    responsive: true, maintainAspectRatio: false, animation: false, events: [],
    layout: { padding: { left: 0, right: padRight, top: 0, bottom: padBottom } },
    scales,
    plugins: { legend: { display: false }, tooltip: { enabled: false }, title: titleOpts(title), matlabFrame: frame }
  };
}

// ---------- panel 1: internal states ----------
new Chart(document.getElementById('internal'), {
  type: 'line',
  data: { datasets: [
    line(xI1, '#0000ff', { label: 'x_I1', order: 3 }),
    line(xI2, '#00ff00', { label: 'x_I2', order: 2 }),
    hline(boundLevels[1], 0, 590, { label: 'upper', borderDash: [14, 12], order: 1 }),
    hline(boundLevels[0], 0, 590, { label: 'lower', borderDash: [14, 12], order: 1 }),
    markerStrip(-1.2)
  ] },
  options: baseOptions('Internal States', {
    x: timeAxis(false),
    y: valueAxis('left', -1.5, 1.25, xITicks)
  }, {
    top: 0,
    legend: { box: [117, 53, 246, 142], lineX: [131, 197], textX: 204, items: [
      { color: '#0000ff', y: 78, label: 'x_{I1}', dy: 0 },
      { color: '#00ff00', y: 117, label: 'x_{I2}', dy: 0 }
    ] },
    yTitles: [{ text: 'x_{I1} & x_{I2}', x: 45, y: 114 }]
  }, 80, 2)
});

// ---------- panel 2: external state and reward ----------
new Chart(document.getElementById('external'), {
  type: 'line',
  data: { datasets: [
    { label: 'x_E', data: xETime.map((t, i) => ({ x: t, y: xE[i] })), borderColor: '#d2601a', borderWidth: 1.2, pointRadius: 0, fill: false, yAxisID: 'y', order: 2 },
    line(reward, '#00ffff', { label: 'R(x_E,u)', stepped: true, yAxisID: 'y2', order: 3 }),
    markerStrip(-150)
  ] },
  options: baseOptions('External State and Reward Value', {
    x: timeAxis(false),
    y: valueAxis('left', -200, 200, xETicks),
    y2: valueAxis('right', -2, 2, rTicks)
  }, {
    top: 226,
    legend: { box: [117, 279, 295, 368], lineX: [131, 195], textX: 201, items: [
      { color: '#d2601a', y: 303, label: 'x_{E}', dy: 0 },
      { color: '#00ffff', y: 343, label: 'R(x_{E},u)', dy: 0 }
    ] },
    yTitles: [{ text: 'x_{E}', x: 45, y: 340 }, { text: 'R(x_{E},u)', x: 1228, y: 340 }]
  }, 0, 2)
});

// ---------- panel 3: control state and boundary state ----------
new Chart(document.getElementById('control'), {
  type: 'line',
  data: { datasets: [
    line(xi, '#ff00ff', { label: 'ξ', stepped: true, order: 3 }),
    line(beta, '#ffff00', { label: 'β', stepped: true, yAxisID: 'y2', order: 2 }),
    markerStrip(-3)
  ] },
  options: baseOptions('Control State and Boundary State', {
    x: timeAxis(false),
    y: valueAxis('left', -46, 40.3, xiTicks),
    y2: valueAxis('right', -0.5, 9.53, betaTicks)
  }, {
    top: 452,
    legend: { box: [117, 505, 231, 580], lineX: [132, 199], textX: 205, items: [
      { color: '#ff00ff', y: 526, label: 'ξ', dy: 7 },
      { color: '#ffff00', y: 558, label: 'β', dy: 6 }
    ] },
    yTitles: [{ text: 'ξ', x: 45, y: 566 }, { text: 'β', x: 1222, y: 566 }]
  }, 0, 2)
});

// ---------- panel 4: max variance in Q values ----------
new Chart(document.getElementById('variance'), {
  type: 'line',
  data: { datasets: [
    line(maxVar, '#a020f0', { label: 'max(σ²(s))', order: 3 }),
    hline(sigmaTh, 0, 590, { label: 'σ²_th', order: 2 }),
    markerStrip(1.24e-4)
  ] },
  options: baseOptions('Max Variance in Q Values', {
    x: timeAxis(true),
    y: valueAxis('left', 5e-5, 0.068, varTicks, { type: 'logarithmic', ticks: { display: false } })
  }, {
    top: 678,
    logAxis: true,
    legend: { box: [117, 732, 331, 825], lineX: [131, 196], textX: 203, items: [
      { color: '#a020f0', y: 755, label: 'max(σ^{2}(s))', dy: 6 },
      { color: '#000000', y: 797, label: 'σ^{2}_{th}', dy: -3 }
    ] },
    yTitles: [{ text: 'max(σ^{2}(s))', x: 47, y: 792 }]
  }, 80, 0)
});
</script>
</body>
</html>
